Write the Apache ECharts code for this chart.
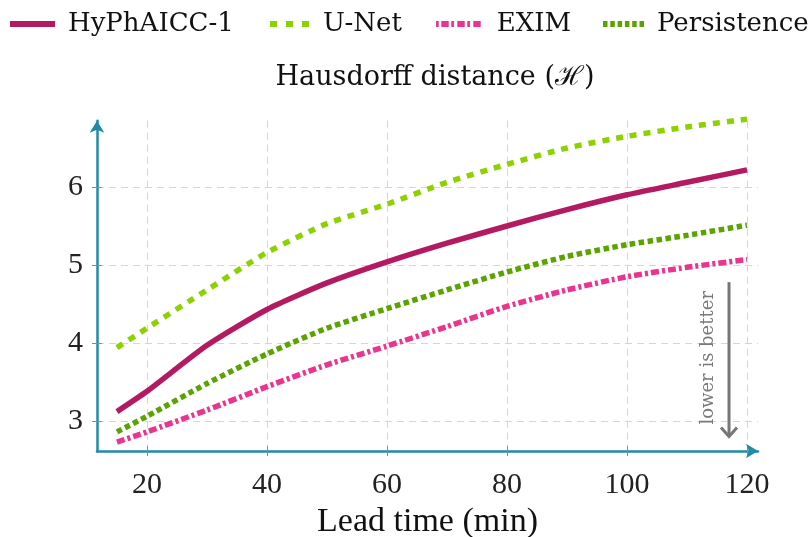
<!DOCTYPE html>
<html>
<head>
<meta charset="utf-8">
<script src="https://cdn.jsdelivr.net/npm/echarts@6/dist/echarts.min.js"></script>
<style>
  html, body { margin: 0; padding: 0; background: #ffffff; }
  #chart { width: 810px; height: 537px; }
</style>
</head>
<body>
<div id="chart"></div>
<script>
// Lead times (minutes) at which each model was evaluated
const leadTimes = [15, 20, 30, 40, 50, 60, 70, 80, 90, 100, 110, 120];

// Hausdorff distance per model
const hyphaicc    = [3.12, 3.38, 3.97, 4.43, 4.77, 5.04, 5.28, 5.50, 5.71, 5.90, 6.06, 6.22];
const unet        = [3.94, 4.19, 4.68, 5.16, 5.53, 5.78, 6.06, 6.29, 6.50, 6.65, 6.77, 6.87];
const exim        = [2.73, 2.86, 3.14, 3.44, 3.72, 3.96, 4.21, 4.47, 4.68, 4.85, 4.97, 5.07];
const persistence = [2.86, 3.06, 3.48, 3.86, 4.19, 4.44, 4.68, 4.91, 5.11, 5.26, 5.38, 5.51];

const seriesNames = ['HyPhAICC-1', 'U-Net', 'EXIM', 'Persistence'];

// Tick positions
const xTicks = [20, 40, 60, 80, 100, 120];
const yTicks = [3, 4, 5, 6];

const COLORS = ['#b31a61', '#8ed100', '#ea3490', '#5ba300'];
const AXIS_BLUE = '#1f8ba6';
const TICK_GREY = '#8a8a8a';
const GRID_GREY = '#d6d6d6';
const SERIF_NUM = 'Liberation Serif';
const SERIF_TXT = 'DejaVu Serif';

const pairs = vals => leadTimes.map((t, i) => [t, vals[i]]);

function lineSeries(name, vals, color, dash) {
  return {
    name: name,
    type: 'line',
    data: pairs(vals),
    symbol: 'none',
    showSymbol: false,
    clip: false,
    smooth: 0.2,
    lineStyle: { color: color, width: 5.5, type: dash, cap: 'butt', join: 'round' },
    itemStyle: { color: color },
    emphasis: { disabled: true }
  };
}

// Legend swatches drawn as little paths that echo each line's dash pattern
function rects(list, h) {
  return 'path://' + list.map(([a, b]) => `M${a},0H${b}V${h}H${a}Z`).join('');
}
const swatches = [
  { path: rects([[0, 45]], 6), w: 45 },
  { path: rects([[0, 7], [16, 23], [32, 39]], 6), w: 39 },
  { path: rects([[0, 2.7], [5.3, 12.7], [15.3, 18], [21.3, 28.7], [31.3, 34], [37.3, 44.7]], 6), w: 44.7 },
  { path: rects([[0, 4.5], [7.3, 11.8], [14.6, 19.1], [21.9, 26.4], [29.2, 33.7], [36.5, 41]], 6), w: 41 }
];
const legendLeft = [10, 270, 436, 603];
const legendTextGap = [8, 9, 11, 8];

const legends = seriesNames.map((name, i) => ({
  left: legendLeft[i],
  top: 11,
  padding: 0,
  itemWidth: swatches[i].w,
  itemHeight: 6,
  symbolKeepAspect: false,
  selectedMode: false,
  itemStyle: { borderWidth: 0 },
  data: [{ name: name, icon: swatches[i].path }],
  textStyle: { fontFamily: SERIF_TXT, fontSize: 26, color: '#111', padding: [0, 0, 0, legendTextGap[i]] }
}));

const X_MIN = 11.67, X_MAX = 121.83;
const Y_MIN = 2.615, Y_MAX = 6.85;

const chart = echarts.init(document.getElementById('chart'), null, { renderer: 'canvas' });

chart.setOption({
  animation: false,
  backgroundColor: '#ffffff',
  title: {
    text: 'Hausdorff distance (ℋ)',
    left: 430,
    textAlign: 'center',
    top: 59,
    textStyle: { fontFamily: SERIF_TXT, fontSize: 27, fontWeight: 'normal', color: '#111' }
  },
  legend: legends,
  grid: { left: 97, right: 52, top: 120.7, bottom: 86, containLabel: false, outerBoundsMode: 'none' },
  xAxis: [
    {
      type: 'value',
      position: 'bottom',
      min: X_MIN,
      max: X_MAX,
      axisLine: {
        show: true, onZero: false,
        lineStyle: { color: AXIS_BLUE, width: 2.5 },
        symbol: ['none', 'arrow'], symbolSize: [11, 12], symbolOffset: [0, 0]
      },
      axisTick: { show: true, inside: true, length: 5, customValues: xTicks, lineStyle: { color: TICK_GREY, width: 1 } },
      axisLabel: { customValues: xTicks, margin: 19, fontFamily: SERIF_NUM, fontSize: 30, color: '#222' },
      splitLine: { show: true, lineStyle: { color: GRID_GREY, width: 1, type: [7, 5] } },
      name: 'Lead time (min)',
      nameLocation: 'middle',
      nameGap: 52,
      nameTextStyle: { fontFamily: SERIF_NUM, fontSize: 34, color: '#111' }
    },
    {
      type: 'value',
      position: 'bottom',
      min: X_MIN,
      max: X_MAX,
      axisLine: { show: false, onZero: false },
      axisTick: { show: true, inside: false, length: 5, customValues: xTicks, lineStyle: { color: TICK_GREY, width: 1 } },
      axisLabel: { show: false },
      splitLine: { show: false }
    }
  ],
  yAxis: [
    {
      type: 'value',
      position: 'left',
      min: Y_MIN,
      max: Y_MAX,
      axisLine: {
        show: true, onZero: false,
        lineStyle: { color: AXIS_BLUE, width: 2.5 },
        symbol: ['none', 'arrow'], symbolSize: [11, 12], symbolOffset: [0, 0]
      },
      axisTick: { show: true, inside: true, length: 5, customValues: yTicks, lineStyle: { color: TICK_GREY, width: 1 } },
      axisLabel: { customValues: yTicks, margin: 14, padding: [5, 0, 0, 0], fontFamily: SERIF_NUM, fontSize: 30, color: '#222' },
      splitLine: { show: true, lineStyle: { color: GRID_GREY, width: 1, type: [7, 5] } }
    },
    {
      type: 'value',
      position: 'left',
      min: Y_MIN,
      max: Y_MAX,
      axisLine: { show: false, onZero: false },
      axisTick: { show: true, inside: false, length: 5, customValues: yTicks, lineStyle: { color: TICK_GREY, width: 1 } },
      axisLabel: { show: false },
      splitLine: { show: false }
    }
  ],
  series: [
    lineSeries(seriesNames[0], hyphaicc, COLORS[0], 'solid'),
    lineSeries(seriesNames[1], unet, COLORS[1], [7, 7]),
    lineSeries(seriesNames[2], exim, COLORS[2], [8, 3, 3, 3]),
    lineSeries(seriesNames[3], persistence, COLORS[3], [5.5, 3.5])
  ]
});

// "lower is better" annotation, placed in data coordinates
const arrowX = 117, arrowTop = 4.78, arrowBottom = 2.80;
const noteX = 113.5, noteY = 3.81;
const pTop = chart.convertToPixel({ gridIndex: 0 }, [arrowX, arrowTop]);
const pBot = chart.convertToPixel({ gridIndex: 0 }, [arrowX, arrowBottom]);
const pNote = chart.convertToPixel({ gridIndex: 0 }, [noteX, noteY]);

chart.setOption({
  graphic: [
    {
      type: 'line',
      shape: { x1: pTop[0], y1: pTop[1], x2: pBot[0], y2: pBot[1] - 1 },
      style: { stroke: '#767676', lineWidth: 3 },
      z: 10
    },
    {
      type: 'polyline',
      shape: { points: [[pBot[0] - 8, pBot[1] - 9], [pBot[0], pBot[1]], [pBot[0] + 8, pBot[1] - 9]] },
      style: { stroke: '#767676', lineWidth: 3, fill: null, lineJoin: 'miter' },
      z: 10
    },
    {
      type: 'text',
      x: pNote[0],
      y: pNote[1],
      rotation: Math.PI / 2,
      style: {
        text: 'lower is better',
        fill: '#7a7a7a',
        font: '18px "DejaVu Serif"',
        align: 'center',
        verticalAlign: 'middle'
      },
      z: 10
    }
  ]
});
</script>
</body>
</html>
